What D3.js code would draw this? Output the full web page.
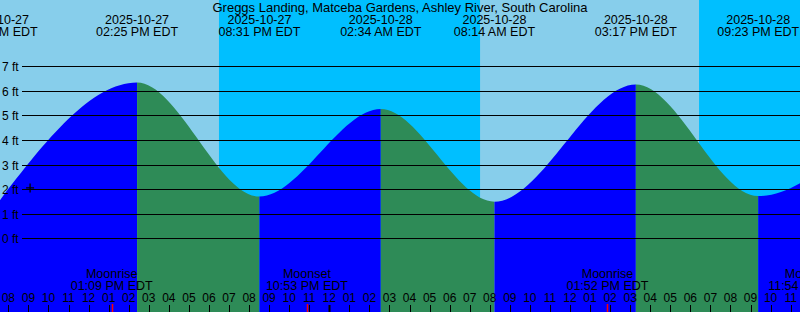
<!DOCTYPE html>
<html>
<head>
<meta charset="utf-8">
<script src="https://cdn.jsdelivr.net/npm/d3@7"></script>
<style>
  body { margin: 0; padding: 0; background: #fff; }
  svg { display: block; }
  text { font-family: "Liberation Sans", Arial, sans-serif; fill: #000; }
</style>
</head>
<body>
<div id="chart"></div>
<script>
// station + window (local EDT clock times)
const title = "Greggs Landing, Matceba Gardens, Ashley River, South Carolina";
const viewStart = "2025-10-27 07:35";
const viewEnd = "2025-10-28 23:28";

// high / low tides
const tideTimes = ["2025-10-27 07:26", "2025-10-27 14:25", "2025-10-27 20:31", "2025-10-28 02:34",
  "2025-10-28 08:14", "2025-10-28 15:17", "2025-10-28 21:23", "2025-10-29 03:40"];
const tideHeights = [1.39, 6.34, 1.70, 5.26, 1.49, 6.26, 1.72, 5.30];

// sunset / sunrise
const nightStarts = ["2025-10-27 18:30", "2025-10-28 18:26"];
const nightEnds = ["2025-10-28 07:31", "2025-10-29 07:32"];

// moon
const moonNames = ["Moonrise", "Moonset", "Moonrise", "Moonset"];
const moonTimes = ["2025-10-27 13:09", "2025-10-27 22:53", "2025-10-28 13:52", "2025-10-28 23:54"];

// y axis
const feetTicks = [0, 1, 2, 3, 4, 5, 6, 7];

// marker
const markTime = "2025-10-27 09:05";
const markHeight = 2.05;

const width = 800, height = 312;
const parse = d3.utcParse("%Y-%m-%d %H:%M");
const fmtDate = d3.utcFormat("%Y-%m-%d");
const fmtTime = d3.utcFormat("%I:%M %p EDT");
const fmtHour = d3.utcFormat("%I");

const x = d3.scaleUtc()
  .domain([parse(viewStart), parse(viewEnd)])
  .range([0, width]);

const y = d3.scaleLinear()
  .domain([0, 7])
  .range([238.3, 66.3]);

const tides = tideTimes.map(function (t, i) {
  return { date: parse(t), h: tideHeights[i] };
});

const svg = d3.select("#chart")
  .append("svg")
  .attr("width", width)
  .attr("height", height);

// sky: day then night bands
svg.append("rect")
  .attr("width", width).attr("height", height)
  .attr("fill", "#87ceeb");

svg.selectAll(".night")
  .data(nightStarts)
  .enter().append("rect")
  .attr("class", "night")
  .attr("x", function (d) { return x(parse(d)); })
  .attr("y", 0)
  .attr("width", function (d, i) { return x(parse(nightEnds[i])) - x(parse(d)); })
  .attr("height", height)
  .attr("fill", "#00bfff");

// water, one clip per rising/falling run
const area = d3.area()
  .curve(d3.curveMonotoneX)
  .x(function (d) { return x(d.date); })
  .y0(height)
  .y1(function (d) { return y(d.h); });

const segs = tides.slice(0, -1).map(function (d, i) {
  return { a: d, b: tides[i + 1], rising: tides[i + 1].h > d.h };
});

const defs = svg.append("defs");
segs.forEach(function (s, i) {
  defs.append("clipPath")
    .attr("id", "seg" + i)
    .append("rect")
    .attr("x", x(s.a.date))
    .attr("y", 0)
    .attr("width", x(s.b.date) - x(s.a.date))
    .attr("height", height);
});

svg.selectAll(".water")
  .data(segs)
  .enter().append("path")
  .attr("class", "water")
  .attr("clip-path", function (d, i) { return "url(#seg" + i + ")"; })
  .attr("d", area(tides))
  .attr("fill", function (d) { return d.rising ? "#0000ff" : "#2e8b57"; });

// grid lines + ft labels
svg.selectAll(".grid")
  .data(feetTicks)
  .enter().append("line")
  .attr("class", "grid")
  .attr("x1", 22).attr("x2", width)
  .attr("y1", function (d) { return Math.round(y(d)) + 0.5; })
  .attr("y2", function (d) { return Math.round(y(d)) + 0.5; })
  .attr("stroke", "#000")
  .attr("stroke-width", 1);

svg.selectAll(".ft")
  .data(feetTicks)
  .enter().append("text")
  .attr("class", "ft")
  .attr("x", 2)
  .attr("y", function (d) { return Math.round(y(d)) + 4.5; })
  .style("font-size", "12px")
  .text(function (d) { return d + " ft"; });

// little cross
const mx = x(parse(markTime)), my = y(markHeight);
svg.append("path")
  .attr("d", "M" + (mx - 4) + "," + my + "H" + (mx + 4) + "M" + mx + "," + (my - 4.5) + "V" + (my + 4.5))
  .attr("stroke", "#000")
  .attr("stroke-width", 1.3)
  .attr("fill", "none");

// title + tide labels
svg.append("text")
  .attr("x", width / 2)
  .attr("y", 11.5)
  .style("text-anchor", "middle")
  .style("font-size", "13px")
  .text(title);

const tl = svg.selectAll(".tlab")
  .data(tides)
  .enter().append("g")
  .attr("class", "tlab")
  .attr("transform", function (d) { return "translate(" + x(d.date) + ",0)"; });
tl.append("text")
  .attr("y", 24)
  .style("text-anchor", "middle")
  .style("font-size", "12.5px")
  .text(function (d) { return fmtDate(d.date); });
tl.append("text")
  .attr("y", 36)
  .style("text-anchor", "middle")
  .style("font-size", "12.5px")
  .text(function (d) { return fmtTime(d.date); });

// hour ticks
const hours = x.ticks(d3.utcHour.every(1));
svg.selectAll(".htick")
  .data(hours)
  .enter().append("line")
  .attr("class", "htick")
  .attr("x1", function (d) { return Math.round(x(d)) + 0.5; })
  .attr("x2", function (d) { return Math.round(x(d)) + 0.5; })
  .attr("y1", 305).attr("y2", height)
  .attr("stroke", "#000")
  .attr("stroke-width", function (d) { return d.getUTCHours() === 0 ? 2 : 1; });

svg.selectAll(".hlab")
  .data(hours)
  .enter().append("text")
  .attr("class", "hlab")
  .attr("x", function (d) { return x(d); })
  .attr("y", 302)
  .style("text-anchor", "middle")
  .style("font-size", "12px")
  .text(function (d) { return fmtHour(d); });

// moon events
const moon = moonTimes.map(function (t, i) { return { date: parse(t), name: moonNames[i] }; });
svg.selectAll(".mtick")
  .data(moon)
  .enter().append("line")
  .attr("class", "mtick")
  .attr("x1", function (d) { return Math.round(x(d.date)) + 0.5; })
  .attr("x2", function (d) { return Math.round(x(d.date)) + 0.5; })
  .attr("y1", 304).attr("y2", height)
  .attr("stroke", "#ff0000")
  .attr("stroke-width", 1.5);

const ml = svg.selectAll(".mlab")
  .data(moon)
  .enter().append("g")
  .attr("class", "mlab")
  .attr("transform", function (d) { return "translate(" + x(d.date) + ",0)"; });
ml.append("text")
  .attr("y", 278)
  .style("text-anchor", "middle")
  .style("font-size", "12.5px")
  .text(function (d) { return d.name; });
ml.append("text")
  .attr("y", 290)
  .style("text-anchor", "middle")
  .style("font-size", "12.5px")
  .text(function (d) { return fmtTime(d.date); });
</script>
</body>
</html>
